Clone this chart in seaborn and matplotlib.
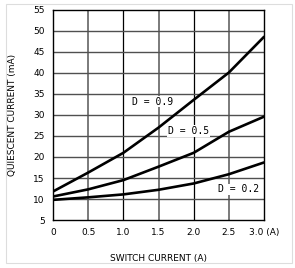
import matplotlib
matplotlib.use("Agg")
import matplotlib.pyplot as plt
import seaborn as sns
import pandas as pd
from matplotlib.patches import Rectangle

# Datos
corriente = [0, 0.5, 1.0, 1.5, 2.0, 2.5, 3.0]
d_09 = [11.8, 16.3, 21.0, 27.0, 33.6, 40.1, 48.6]
d_05 = [10.6, 12.3, 14.5, 17.7, 21.0, 26.0, 29.6]
d_02 = [9.8, 10.4, 11.1, 12.2, 13.7, 15.9, 18.7]
etiquetas = ["D = 0.9", "D = 0.5", "D = 0.2"]
pos_etiquetas = [(1.12, 33.2), (1.63, 26.2), (2.35, 12.3)]

xticks = [0, 0.5, 1.0, 1.5, 2.0, 2.5, 3.0]
xtick_labels = ["0", "0.5", "1.0", "1.5", "2.0", "2.5", "3.0 (A)"]
yticks = [5, 10, 15, 20, 25, 30, 35, 40, 45, 50, 55]

df = pd.DataFrame({
    "corriente": corriente * 3,
    "quiescente": d_09 + d_05 + d_02,
    "serie": [etiquetas[0]] * 7 + [etiquetas[1]] * 7 + [etiquetas[2]] * 7,
})

sns.set_style("white")
plt.rcParams['font.family'] = ['DejaVu Sans']
plt.rcParams['text.color'] = 'black'
plt.rcParams['axes.labelcolor'] = 'black'
plt.rcParams['xtick.color'] = 'black'
plt.rcParams['ytick.color'] = 'black'

fig = plt.figure(figsize=(2.95, 2.68), dpi=100)
ax = fig.add_axes([0.18, 0.179, 0.715, 0.784])

# Rejilla: grises en .5, negras en enteros
for x in xticks[1:-1]:
    color = "black" if x in (1.0, 2.0) else "#707070"
    lw = 0.9 if x in (1.0, 2.0) else 1.3
    ax.axvline(x, color=color, lw=lw, zorder=1)
for y in yticks[1:-1]:
    ax.axhline(y, color="#505050", lw=1.0, zorder=1)

sns.lineplot(data=df, x="corriente", y="quiescente", units="serie", estimator=None,
             color="black", lw=1.9, ax=ax, zorder=3, legend=False)

for texto, (tx, ty) in zip(etiquetas, pos_etiquetas):
    ax.text(tx, ty, texto, fontsize=7, family="DejaVu Sans Mono", ha="left", va="center",
            zorder=4, bbox=dict(facecolor="white", edgecolor="none", pad=0.5))

ax.set_xlim(0, 3.0)
ax.set_ylim(5, 55)
ax.set_xticks(xticks)
ax.set_xticklabels(xtick_labels, fontsize=6.5)
ax.set_yticks(yticks)
ax.set_yticklabels([str(v) for v in yticks], fontsize=6.5)
ax.tick_params(length=0, pad=6)
for s in ax.spines.values():
    s.set_color("black")
    s.set_linewidth(1.0)

ax.set_xlabel("SWITCH CURRENT (A)", fontsize=6.5, labelpad=12)
ax.set_ylabel("QUIESCENT CURRENT (mA)", fontsize=6.5, labelpad=12)

# Marco gris claro de la imagen
fig.patches.append(Rectangle((0.02, 0.018), 0.97, 0.967, transform=fig.transFigure,
                             fill=False, edgecolor="#dddddd", lw=0.8))

fig.savefig("out.png", dpi=100)
